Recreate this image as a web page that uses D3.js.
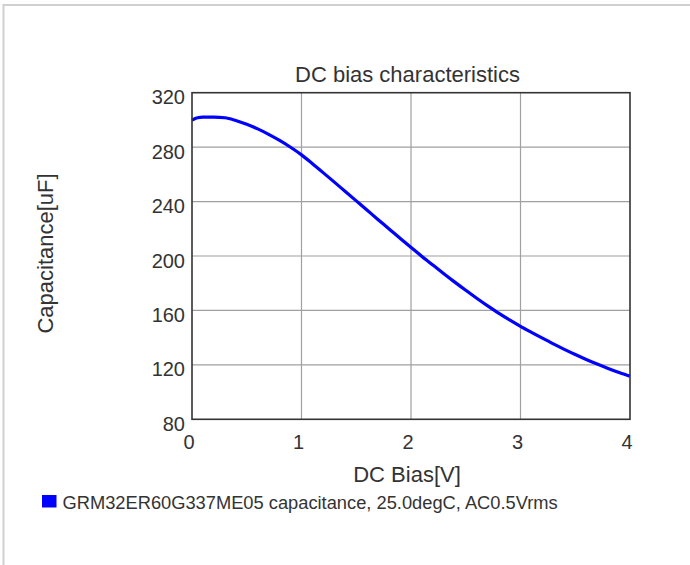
<!DOCTYPE html>
<html>
<head>
<meta charset="utf-8">
<script src="https://cdn.jsdelivr.net/npm/d3@7"></script>
<style>
  body { margin: 0; background: #fff; }
  text { font-family: "Liberation Sans", Arial, sans-serif; fill: #333; }
</style>
</head>
<body>
<div id="chart"></div>
<script>
"use strict";

// DC bias [V]
let biasValues = [0, 0.05, 0.1, 0.2, 0.3, 0.4, 0.5, 0.6, 0.7, 0.8, 0.9,
  1.0, 1.1, 1.2, 1.3, 1.4, 1.5, 1.6, 1.7, 1.8, 1.9,
  2.0, 2.1, 2.2, 2.3, 2.4, 2.5, 2.6, 2.7, 2.8, 2.9,
  3.0, 3.1, 3.2, 3.3, 3.4, 3.5, 3.6, 3.7, 3.8, 3.9, 4.0];

// capacitance [uF]
let capValues = [299.8, 301.6, 302, 302, 301.6, 299.6, 296.8, 293.4, 289.4, 284.9, 279.9,
  274.3, 267.8, 261.1, 254.3, 247.4, 240.5, 233.6, 226.7, 219.9, 213.0,
  206.3, 199.7, 193.3, 187.0, 180.8, 174.8, 169.0, 163.4, 158.0, 153.0,
  148.3, 143.9, 139.6, 135.4, 131.4, 127.6, 124.0, 120.6, 117.4, 114.4, 111.6];

let xTicks = [0, 1, 2, 3, 4];
let yTicks = [80, 120, 160, 200, 240, 280, 320];

let chartTitle = "DC bias characteristics";
let xTitle = "DC Bias[V]";
let yTitle = "Capacitance[uF]";
let seriesName = "GRM32ER60G337ME05 capacitance, 25.0degC, AC0.5Vrms";

function drawChart() {
  let W = 690, H = 565;
  let left = 192, top = 92.7, right = 630, bottom = 419.3;

  let svg = d3.select("#chart").append("svg")
    .attr("width", W)
    .attr("height", H);

  // outer light frame
  svg.append("rect")
    .attr("x", 3.5).attr("y", 5)
    .attr("width", 720).attr("height", 600)
    .attr("fill", "#fff")
    .attr("stroke", "#d0d0d0")
    .attr("stroke-width", 2);

  let x = d3.scaleLinear().domain([0, 4]).range([left, right]);
  let y = d3.scaleLinear().domain([80, 320]).range([bottom, top]);

  // grid
  let grid = svg.append("g");
  grid.selectAll("line.vx").data(xTicks.slice(1, -1)).enter()
    .append("line")
    .attr("x1", d => x(d)).attr("x2", d => x(d))
    .attr("y1", top).attr("y2", bottom)
    .attr("stroke", "#a0a0a0").attr("stroke-width", 1.2);
  grid.selectAll("line.hy").data(yTicks.slice(1, -1)).enter()
    .append("line")
    .attr("x1", left).attr("x2", right)
    .attr("y1", d => y(d)).attr("y2", d => y(d))
    .attr("stroke", "#a0a0a0").attr("stroke-width", 1.2);

  // curve
  let pts = biasValues.map((v, i) => [v, capValues[i]]);
  let line = d3.line()
    .x(d => x(d[0]))
    .y(d => y(d[1]))
    .curve(d3.curveMonotoneX);

  svg.append("path")
    .datum(pts)
    .attr("d", line)
    .attr("fill", "none")
    .attr("stroke", "#0000ff")
    .attr("stroke-width", 3.2);

  // plot frame
  svg.append("rect")
    .attr("x", left).attr("y", top)
    .attr("width", right - left).attr("height", bottom - top)
    .attr("fill", "none")
    .attr("stroke", "#333")
    .attr("stroke-width", 1.6);

  // axes (labels only)
  let xAxis = svg.append("g")
    .attr("transform", `translate(0,${bottom})`)
    .call(d3.axisBottom(x).tickValues(xTicks).tickSize(0).tickPadding(15.5).tickFormat(d3.format("d")));
  xAxis.select(".domain").remove();
  xAxis.selectAll("text")
    .attr("dx", -3.5)
    .style("font-size", "20px")
    .style("font-family", "'Liberation Sans', Arial, sans-serif")
    .attr("fill", "#333");

  let yAxis = svg.append("g")
    .attr("transform", `translate(${left},0)`)
    .call(d3.axisLeft(y).tickValues(yTicks).tickSize(0).tickPadding(7));
  yAxis.select(".domain").remove();
  yAxis.selectAll("text")
    .attr("dy", "0.55em")
    .style("font-size", "20px")
    .style("font-family", "'Liberation Sans', Arial, sans-serif")
    .attr("fill", "#333");

  // titles
  svg.append("text")
    .attr("x", 407.5).attr("y", 81.5)
    .attr("text-anchor", "middle")
    .style("font-size", "22px")
    .text(chartTitle);

  svg.append("text")
    .attr("x", 407).attr("y", 481.5)
    .attr("text-anchor", "middle")
    .style("font-size", "22px")
    .text(xTitle);

  svg.append("text")
    .attr("transform", "translate(53,253.5) rotate(-90)")
    .attr("text-anchor", "middle")
    .style("font-size", "22px")
    .text(yTitle);

  // legend
  svg.append("rect")
    .attr("x", 42).attr("y", 495)
    .attr("width", 14.5).attr("height", 12.5)
    .attr("fill", "#0000ff");
  svg.append("text")
    .attr("x", 62.5).attr("y", 508.7)
    .style("font-size", "18.3px")
    .text(seriesName);
}

drawChart();
</script>
</body>
</html>
